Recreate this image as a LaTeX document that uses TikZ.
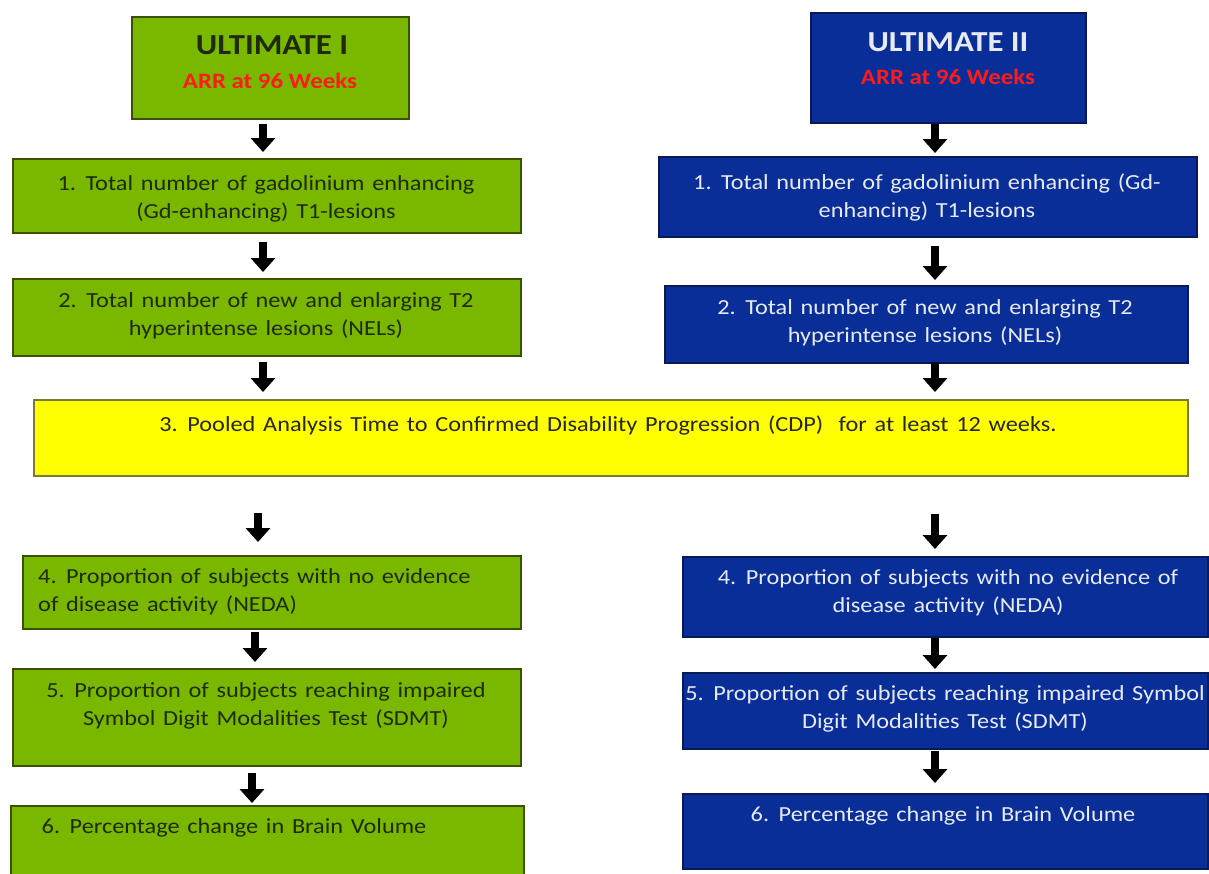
\documentclass[tikz,border=0pt]{standalone}
\usepackage{fontspec}
\setmainfont{Carlito}[FakeStretch=1.13]
\usetikzlibrary{arrows.meta}
\definecolor{gfill}{HTML}{7AB800}
\definecolor{gline}{HTML}{3A5200}
\definecolor{gtext}{HTML}{1E2A08}
\definecolor{bfill}{HTML}{0A2E98}
\definecolor{bline}{HTML}{0A1A55}
\definecolor{btext}{HTML}{E6EAF2}
\definecolor{yfill}{HTML}{FFFF00}
\definecolor{yline}{HTML}{7A7A3A}
\definecolor{rtext}{HTML}{FF1A1A}
\newcommand\widespaces{\spaceskip=.36em plus .1em\relax}
\tikzset{
  box/.style={rectangle, anchor=north west, inner sep=0pt, line width=2pt},
  gbox/.style={box, fill=gfill, draw=gline},
  bbox/.style={box, fill=bfill, draw=bline},
  ybox/.style={box, fill=yfill, draw=yline},
  txt/.style={inner sep=0pt, font=\fontsize{21.5}{28}\selectfont\widespaces, align=center},
  gtxt/.style={txt, text=gtext},
  btxt/.style={txt, text=btext},
  ttl/.style={inner sep=0pt, font=\bfseries\fontsize{29}{34}\selectfont},
  sub/.style={inner sep=0pt, font=\bfseries\fontsize{22}{26}\selectfont, text=rtext},
  blk/.style={line width=8pt, -{Triangle[length=14pt,width=24pt]}, black},
}
\begin{document}
\begin{tikzpicture}[x=1pt,y=-1pt]
\useasboundingbox (0,0) rectangle (1209,873);
% left column
\node[gbox, minimum width=277pt, minimum height=102pt] (u1) at (131,16) {};
\node[ttl, text=gtext] (u1t) at (272,45) {ULTIMATE I};
\node[sub] (u1r) at (270,81) {ARR at 96 Weeks};
\node[gbox, minimum width=508pt, minimum height=74pt] (l1) at (12,158) {};
\node[gtxt] (l1t) at (266,199) {1. Total number of gadolinium enhancing\\(Gd-enhancing) T1-lesions};
\node[gbox, minimum width=508pt, minimum height=77pt] (l2) at (12,278) {};
\node[gtxt] (l2t) at (266,316) {2. Total number of new and enlarging T2\\hyperintense lesions (NELs)};
\node[gbox, minimum width=498pt, minimum height=73pt] (l4) at (22,555) {};
\node[gtxt, align=left, anchor=west] (l4t) at (38,592) {4. Proportion of subjects with no evidence\\of disease activity (NEDA)};
\node[gbox, minimum width=508pt, minimum height=97pt] (l5) at (12,668) {};
\node[gtxt] (l5t) at (266,706) {5. Proportion of subjects reaching impaired\\Symbol Digit Modalities Test (SDMT)};
\node[gbox, minimum width=513pt, minimum height=80pt] (l6) at (10,805) {};
\node[gtxt] (l6t) at (234,828) {6. Percentage change in Brain Volume};
% right column
\node[bbox, minimum width=275pt, minimum height=110pt] (u2) at (810,12) {};
\node[ttl, text=btext] (u2t) at (948,42) {ULTIMATE II};
\node[sub] (u2r) at (948,77) {ARR at 96 Weeks};
\node[bbox, minimum width=538pt, minimum height=80pt] (r1) at (658,156) {};
\node[btxt] (r1t) at (927,197) {1. Total number of gadolinium enhancing (Gd-\\enhancing) T1-lesions};
\node[bbox, minimum width=523pt, minimum height=77pt] (r2) at (664,285) {};
\node[btxt] (r2t) at (925,323) {2. Total number of new and enlarging T2\\hyperintense lesions (NELs)};
\node[bbox, minimum width=525pt, minimum height=80pt] (r4) at (682,556) {};
\node[btxt] (r4t) at (948,593) {4. Proportion of subjects with no evidence of\\disease activity (NEDA)};
\node[bbox, minimum width=525pt, minimum height=76pt] (r5) at (682,672) {};
\node[btxt] (r5t) at (945,709) {5. Proportion of subjects reaching impaired Symbol\\Digit Modalities Test (SDMT)};
\node[bbox, minimum width=525pt, minimum height=75pt] (r6) at (682,793) {};
\node[btxt] (r6t) at (943,816) {6. Percentage change in Brain Volume};
% yellow
\node[ybox, minimum width=1154pt, minimum height=76pt] (y3) at (33,399) {};
\node[txt, text=black!85] (y3t) at (608,425) {3. Pooled Analysis Time to Confirmed Disability Progression (CDP)\ \ for at least 12 weeks.};
% arrows left
\coordinate (la1) at (263,124); \coordinate (la1e) at (263,152);
\coordinate (la2) at (263,242); \coordinate (la2e) at (263,272);
\coordinate (la3) at (263,362); \coordinate (la3e) at (263,392);
\coordinate (la4) at (258,513); \coordinate (la4e) at (258,542);
\coordinate (la5) at (255,632); \coordinate (la5e) at (255,662);
\coordinate (la6) at (252,773); \coordinate (la6e) at (252,803);
\draw[blk] (la1) -- (la1e);
\draw[blk] (la2) -- (la2e);
\draw[blk] (la3) -- (la3e);
\draw[blk] (la4) -- (la4e);
\draw[blk] (la5) -- (la5e);
\draw[blk] (la6) -- (la6e);
% arrows right
\coordinate (ra1) at (935,124); \coordinate (ra1e) at (935,153);
\coordinate (ra2) at (935,246); \coordinate (ra2e) at (935,280);
\coordinate (ra3) at (935,362); \coordinate (ra3e) at (935,392);
\coordinate (ra4) at (935,514); \coordinate (ra4e) at (935,549);
\coordinate (ra5) at (935,638); \coordinate (ra5e) at (935,669);
\coordinate (ra6) at (935,751); \coordinate (ra6e) at (935,783);
\draw[blk] (ra1) -- (ra1e);
\draw[blk] (ra2) -- (ra2e);
\draw[blk] (ra3) -- (ra3e);
\draw[blk] (ra4) -- (ra4e);
\draw[blk] (ra5) -- (ra5e);
\draw[blk] (ra6) -- (ra6e);
\end{tikzpicture}
\end{document}
